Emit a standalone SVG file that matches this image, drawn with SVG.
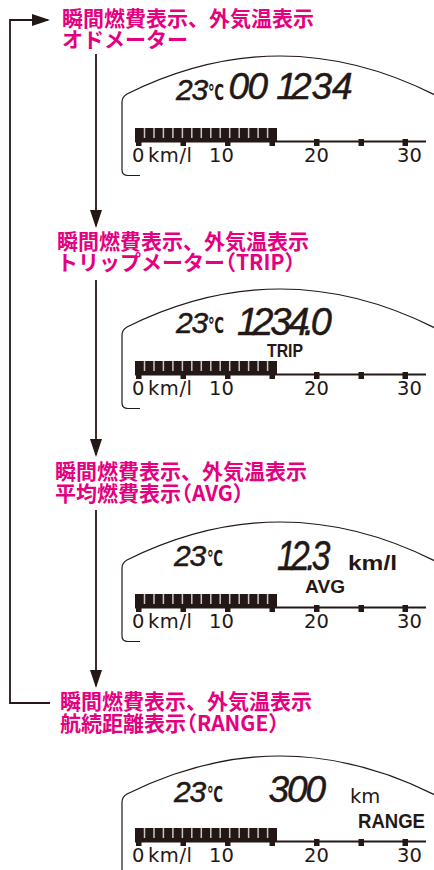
<svg xmlns="http://www.w3.org/2000/svg" xmlns:xlink="http://www.w3.org/1999/xlink" width="434" height="870" viewBox="0 0 434 870">
<style>
.ttl{font-family:"Noto Sans CJK JP","Noto Sans",sans-serif;font-weight:bold;font-size:21px;fill:#E4007F}
.ln{fill:none;stroke:#231815;stroke-width:1.8}
.frm{fill:none;stroke:#231815;stroke-width:1.2}
.seg{font-family:"Liberation Sans",Arial,sans-serif;font-style:italic;fill:#231815;stroke:#231815;stroke-width:0.5}
.deg{font-family:"DejaVu Sans",sans-serif;font-weight:bold;font-size:22px;fill:#231815}
.scl{font-family:"DejaVu Sans",sans-serif;font-size:19.5px;fill:#231815}
.bld{font-family:"Liberation Sans",Arial,sans-serif;font-weight:bold;fill:#231815}
.ink{fill:#231815}
</style>
<defs>
<marker id="ah" markerUnits="userSpaceOnUse" markerWidth="18" markerHeight="12" viewBox="0 0 18 12" refX="16" refY="6" orient="auto">
<path d="M0,0 L18,6 L0,12 z" fill="#231815"/>
</marker>
<g id="gauge">
<path class="frm" d="M437,96 Q282,17 127,94 Q122,97 122,102 L122,170 Q122,175.5 128,175.5 L140,175.5"/>
<rect class="ink" x="135" y="128" width="142" height="13"/>
<path d="M144.5,128V138 M154,128V138 M163.4,128V138 M172.9,128V138 M182.4,128V138 M191.8,128V138 M201.3,128V138 M210.8,128V138 M220.2,128V138 M229.7,128V138 M239.2,128V138 M248.6,128V138 M258.1,128V138 M267.6,128V138" stroke="#c8c8c8" stroke-width="1.5"/>
<line x1="135" y1="141.5" x2="426" y2="141.5" stroke="#231815" stroke-width="2"/>
<rect class="ink" x="136" y="139" width="5.5" height="7"/>
<rect class="ink" x="180.5" y="139" width="5.5" height="7"/>
<rect class="ink" x="225" y="139" width="5.5" height="7"/>
<rect class="ink" x="269.5" y="139" width="5.5" height="7"/>
<rect class="ink" x="314" y="139" width="5.5" height="7"/>
<rect class="ink" x="358.5" y="139" width="5.5" height="7"/>
<rect class="ink" x="402.5" y="139" width="5.5" height="7"/>
</g>
</defs>

<g id="connectors">
<path class="ln" d="M96,54 V226" marker-end="url(#ah)"/>
<path class="ln" d="M96,280 V455" marker-end="url(#ah)"/>
<path class="ln" d="M96,510 V686" marker-end="url(#ah)"/>
<path class="ln" d="M50,703 H10 V20 H48" marker-end="url(#ah)"/>
</g>

<g id="title-odo">
<text class="ttl" x="62" y="26">瞬間燃費表示、外気温表示<tspan x="62" dy="21">オドメーター</tspan></text>
</g>
<g id="display-odo">
<use xlink:href="#gauge"/>
<text class="seg" x="176" y="100" font-size="30" letter-spacing="-1.2">23</text>
<text class="deg" x="208" y="100" textLength="16" lengthAdjust="spacingAndGlyphs">℃</text>
<text class="seg" x="228.5" y="99" font-size="37">0<tspan dx="-1.6">0</tspan><tspan dx="-2"> 1</tspan><tspan dx="-6">234</tspan></text>
<text class="scl" x="132" y="162">0</text>
<text class="scl" x="148" y="162" textLength="44">km/l</text>
<text class="scl" x="209" y="162">10</text>
<text class="scl" x="304" y="162">20</text>
<text class="scl" x="397" y="162">30</text>
</g>

<g id="title-trip">
<text class="ttl" x="57" y="249">瞬間燃費表示、外気温表示<tspan x="57" dy="21">トリップメーター</tspan><tspan dx="-10">（</tspan>TRIP）</text>
</g>
<g id="display-trip">
<use xlink:href="#gauge" transform="translate(0,233)"/>
<text class="seg" x="176" y="333" font-size="30" letter-spacing="-1.2">23</text>
<text class="deg" x="208" y="333" textLength="16" lengthAdjust="spacingAndGlyphs">℃</text>
<text class="seg" x="237" y="335" font-size="38">1<tspan dx="-6">2</tspan><tspan dx="-3.1">3</tspan><tspan dx="-3.1">4</tspan><tspan dx="-5.5">.</tspan><tspan dx="-3.7">0</tspan></text>
<text class="bld" x="267" y="357" font-size="19" textLength="36" lengthAdjust="spacingAndGlyphs">TRIP</text>
<text class="scl" x="132" y="395">0</text>
<text class="scl" x="148" y="395" textLength="44">km/l</text>
<text class="scl" x="209" y="395">10</text>
<text class="scl" x="304" y="395">20</text>
<text class="scl" x="397" y="395">30</text>
</g>

<g id="title-avg">
<text class="ttl" x="55" y="479">瞬間燃費表示、外気温表示<tspan x="55" dy="22">平均燃費表示</tspan><tspan dx="-10">（</tspan>AVG）</text>
</g>
<g id="display-avg">
<use xlink:href="#gauge" transform="translate(0,466)"/>
<text class="seg" x="174" y="566" font-size="30" letter-spacing="-1.2">23</text>
<text class="deg" x="207" y="566" textLength="16" lengthAdjust="spacingAndGlyphs">℃</text>
<text class="seg" transform="translate(277,570) scale(0.8,1)" font-size="42">1<tspan dx="-6">2</tspan><tspan dx="-4">.</tspan><tspan dx="-5">3</tspan></text>
<text class="bld" x="348" y="570" font-size="21" textLength="49" lengthAdjust="spacingAndGlyphs">km/l</text>
<text class="bld" x="305" y="593" font-size="19" textLength="40" lengthAdjust="spacingAndGlyphs">AVG</text>
<text class="scl" x="132" y="628">0</text>
<text class="scl" x="148" y="628" textLength="44">km/l</text>
<text class="scl" x="209" y="628">10</text>
<text class="scl" x="304" y="628">20</text>
<text class="scl" x="397" y="628">30</text>
</g>

<g id="title-range">
<text class="ttl" x="60" y="709">瞬間燃費表示、外気温表示<tspan x="60" dy="22">航続距離表示</tspan><tspan dx="-10">（</tspan>RANGE）</text>
</g>
<g id="display-range">
<use xlink:href="#gauge" transform="translate(0,700)"/>
<text class="seg" x="174" y="802" font-size="30" letter-spacing="-1.2">23</text>
<text class="deg" x="207" y="802" textLength="16" lengthAdjust="spacingAndGlyphs">℃</text>
<text class="seg" x="268.5" y="802" font-size="37" letter-spacing="-2.1">300</text>
<text class="scl" x="350" y="803" font-size="20">km</text>
<text class="bld" x="358" y="828" font-size="21" textLength="67" lengthAdjust="spacingAndGlyphs">RANGE</text>
<text class="scl" x="132" y="862">0</text>
<text class="scl" x="148" y="862" textLength="44">km/l</text>
<text class="scl" x="209" y="862">10</text>
<text class="scl" x="304" y="862">20</text>
<text class="scl" x="397" y="862">30</text>
</g>
</svg>
